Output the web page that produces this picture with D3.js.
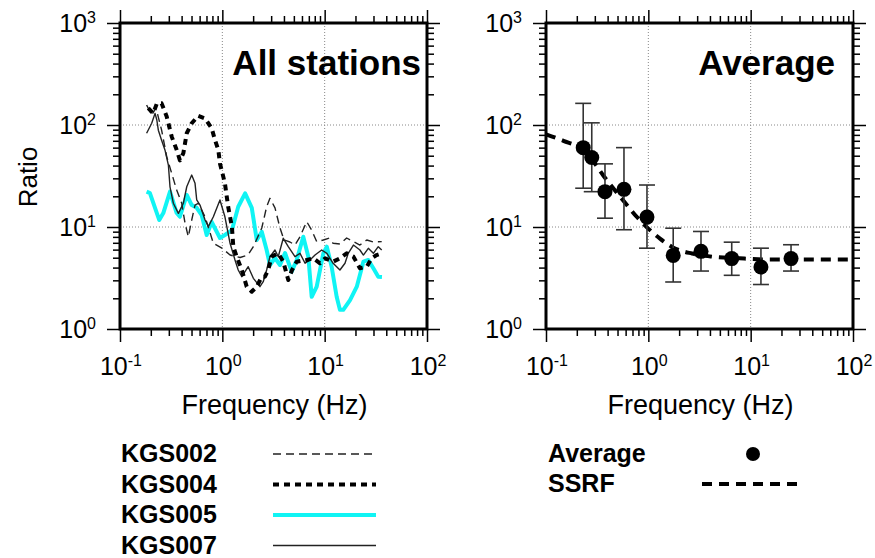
<!DOCTYPE html>
<html>
<head>
<meta charset="utf-8">
<script src="https://cdn.jsdelivr.net/npm/d3@7"></script>
<style>
  body { margin: 0; background: #fff; }
  svg { font-family: "Liberation Sans", Arial, Helvetica, sans-serif; }
</style>
</head>
<body>
<div id="chart"></div>
<script>
// ---- data ----
const kgs002Freq = [0.182,0.204,0.225,0.255,0.286,0.32,0.358,0.401,0.432,0.465,0.502,0.541,0.582,0.678,0.817,0.99,1.19,1.49,1.78,2.01,2.43,2.71,2.92,3.27,3.66,4.01,4.58,5.13,5.74,6.67,7.47,8.36,9.7,10.9,12.1,14.1,16.4,19.1,22.1,25.8,29.9,36.1];
const kgs002Ratio = [157,125,147,89,49,33.6,23,17.1,10.9,8.03,11.7,16.4,17.1,12.6,6.92,6.22,5.31,5.02,5.31,6.41,9.78,15.8,19.1,15.4,9.78,7.46,7.13,6.66,8.03,11.3,9.3,7.18,7.46,7.75,6.92,6.81,7.8,7.18,6.66,7.46,7.13,7.18];

const kgs004Freq = [0.189,0.211,0.230,0.255,0.286,0.32,0.358,0.385,0.416,0.449,0.502,0.582,0.678,0.787,0.848,0.914,0.948,1.06,1.14,1.24,1.28,1.38,1.55,1.73,1.94,2.17,2.43,2.61,2.81,3.03,3.52,3.94,4.41,4.8,5.33,6.67,7.74,9.0,10.1,12.1,14.1,16.4,19.1,22.1,25.8,28.8,32.2,36.1];
const kgs004Ratio = [146,130,164,163,121,77,57,45,53,83,104,123,116,93,71,57,42,26.8,15.8,10.1,6.41,5.12,3.79,2.6,2.32,2.6,3.26,3.26,3.79,5.12,5.52,4.57,3.02,3.79,4.57,4.75,4.93,4.41,4.93,4.57,4.93,5.52,5.12,3.94,4.08,4.93,5.31,5.52];

const kgs005Freq = [0.182,0.196,0.242,0.265,0.308,0.358,0.385,0.449,0.502,0.562,0.628,0.703,0.787,0.948,1.06,1.24,1.43,1.67,1.94,2.17,2.43,2.71,2.92,3.27,3.66,4.1,4.76,5.33,6.18,6.92,7.47,8.36,9.7,10.5,11.7,13.1,14.1,15.2,17.7,20.6,23.9,26.7,29.9,33.4,36.3];
const kgs005Ratio = [22.2,21.5,11.7,13.7,22.2,13.7,12.6,20.6,16.4,15.4,13.1,8.35,11.2,7.8,8.35,9.3,15.8,21.4,15.4,7.46,9.0,5.95,4.24,4.97,4.24,5.56,3.65,4.75,8.03,5.12,2.07,2.6,5.52,6.41,4.08,2.07,1.54,1.54,1.92,2.6,4.57,4.75,3.94,3.26,3.24];

const kgs007Freq = [0.182,0.204,0.22,0.229,0.237,0.255,0.275,0.297,0.308,0.332,0.372,0.416,0.449,0.502,0.541,0.562,0.605,0.678,0.73,0.817,0.948,1.06,1.19,1.33,1.43,1.55,1.79,2.01,2.33,2.51,2.71,2.92,3.27,3.52,3.94,4.41,5.13,5.74,6.43,7.19,8.05,9.35,10.5,12.1,14.1,15.8,17.0,19.1,22.1,23.9,26.7,29.9,33.4,36.1];
const kgs007Ratio = [83,104,130,112,89,71,57,40.5,24.8,17.1,13.6,17.1,24.8,32.3,26.8,18.4,16.4,11.7,10.1,12.6,18.4,12.6,6.92,4.75,3.79,3.26,4.08,3.14,2.6,2.91,3.79,5.12,5.95,5.12,7.75,6.41,5.12,5.52,4.41,4.75,5.31,5.95,5.52,4.41,3.79,4.41,5.52,6.66,5.95,5.31,6.18,5.52,6.41,5.95];

const avgFreq = [0.231,0.280,0.377,0.578,0.97,1.75,3.27,6.53,12.6,24.8];
const avgRatio = [60,48,22.2,23.4,12.5,5.27,5.77,4.9,4.05,4.9];
const avgHigh = [163,105,41.6,60,25.8,9.73,9.04,7.1,6.2,6.7];
const avgLow = [24,22.2,12.2,9.4,6.2,2.89,3.7,3.36,2.73,3.7];

const ssrfFreq = [0.1,0.148,0.23,0.28,0.363,0.59,0.77,1.3,1.74,2.67,4.0,7.8,15,100];
const ssrfRatio = [81,70,57,46,32,17.4,12.6,7.7,6.3,5.5,5.15,4.93,4.8,4.8];

const xMajor = [0.1, 1, 10, 100];
const yMajor = [1, 10, 100, 1000];

// ---- layout ----
var width = 875, height = 558;
var pw = 307, plotTop = 23, plotBottom = 329;

var svg = d3.select("#chart")
  .append("svg")
  .attr("width", width)
  .attr("height", height);

function minorsOf(decades) {
  var out = [];
  decades.slice(0, -1).forEach(function (d) {
    for (var k = 2; k <= 9; k++) out.push(d * k);
  });
  return out;
}
var xMinor = minorsOf(xMajor), yMinor = minorsOf(yMajor);

function expLabel(g, x, y, exp, anchor) {
  var t = g.append("text")
    .attr("x", x).attr("y", y)
    .attr("text-anchor", anchor)
    .style("font-size", "25px");
  t.append("tspan").text("10");
  t.append("tspan").attr("dy", -9).style("font-size", "16px").text(exp);
}

function panel(x0) {
  var x = d3.scaleLog().domain([0.1, 100]).range([x0, x0 + pw]);
  var y = d3.scaleLog().domain([1, 1000]).range([plotBottom, plotTop]);
  var g = svg.append("g");

  // dotted grid at inner decades
  g.selectAll(".gx").data([1, 10]).join("line")
    .attr("x1", d => x(d)).attr("x2", d => x(d))
    .attr("y1", plotTop).attr("y2", plotBottom)
    .attr("stroke", "#888").attr("stroke-width", 1).attr("stroke-dasharray", "1,2");
  g.selectAll(".gy").data([10, 100]).join("line")
    .attr("y1", d => y(d)).attr("y2", d => y(d))
    .attr("x1", x0).attr("x2", x0 + pw)
    .attr("stroke", "#888").attr("stroke-width", 1).attr("stroke-dasharray", "1,2");

  // ticks on all four sides, pointing out
  var sides = [
    [d3.axisBottom, x, "translate(0," + plotBottom + ")", xMajor, xMinor],
    [d3.axisTop, x, "translate(0," + plotTop + ")", xMajor, xMinor],
    [d3.axisLeft, y, "translate(" + x0 + ",0)", yMajor, yMinor],
    [d3.axisRight, y, "translate(" + (x0 + pw) + ",0)", yMajor, yMinor]
  ];
  sides.forEach(function (s) {
    [[s[3], 13], [s[4], 7]].forEach(function (t) {
      var a = g.append("g")
        .attr("transform", s[2])
        .call(s[0](s[1]).tickValues(t[0]).tickSize(t[1]).tickSizeOuter(0).tickFormat(""));
      a.select(".domain").remove();
      a.selectAll("line").attr("stroke", "#000").attr("stroke-width", 1.5);
    });
  });

  g.append("rect")
    .attr("x", x0).attr("y", plotTop)
    .attr("width", pw).attr("height", plotBottom - plotTop)
    .attr("fill", "none").attr("stroke", "#000").attr("stroke-width", 3);

  // tick labels
  yMajor.forEach(function (v) {
    expLabel(g, x0 - 24, y(v) + 9, String(Math.round(Math.log10(v))), "end");
  });
  xMajor.forEach(function (v) {
    expLabel(g, x(v) + 1, 375, String(Math.round(Math.log10(v))), "middle");
  });

  g.append("text")
    .attr("x", x0 + pw / 2 + 1).attr("y", 414)
    .attr("text-anchor", "middle")
    .style("font-size", "27px")
    .text("Frequency (Hz)");

  return { x: x, y: y, g: g };
}

var leftP = panel(120);
var rightP = panel(546);

svg.append("text")
  .attr("transform", "translate(37,177) rotate(-90)")
  .attr("text-anchor", "middle")
  .style("font-size", "26px")
  .text("Ratio");

// panel titles
svg.append("text").attr("x", 421).attr("y", 75).attr("text-anchor", "end")
  .style("font-size", "35px").style("font-weight", "bold").text("All stations");
svg.append("text").attr("x", 835).attr("y", 75).attr("text-anchor", "end")
  .style("font-size", "35px").style("font-weight", "bold").text("Average");

// ---- station curves ----
var stations = [
  { name: "KGS002", f: kgs002Freq, r: kgs002Ratio, color: "#222", w: 1.4, dash: "8,5" },
  { name: "KGS004", f: kgs004Freq, r: kgs004Ratio, color: "#000", w: 4, dash: "6,5" },
  { name: "KGS005", f: kgs005Freq, r: kgs005Ratio, color: "#10f4f4", w: 4, dash: null },
  { name: "KGS007", f: kgs007Freq, r: kgs007Ratio, color: "#222", w: 1.4, dash: null }
];

var lineL = d3.line()
  .x(function (d) { return leftP.x(d[0]); })
  .y(function (d) { return leftP.y(d[1]); });

// cyan first, black curves over it
[2, 0, 3, 1].forEach(function (i) {
  var s = stations[i];
  leftP.g.append("path")
    .datum(d3.zip(s.f, s.r))
    .attr("fill", "none")
    .attr("stroke", s.color)
    .attr("stroke-width", s.w)
    .attr("stroke-linejoin", "round")
    .attr("stroke-dasharray", s.dash)
    .attr("d", lineL);
});

// ---- average panel ----
var lineR = d3.line()
  .curve(d3.curveMonotoneX)
  .x(function (d) { return rightP.x(d[0]); })
  .y(function (d) { return rightP.y(d[1]); });

rightP.g.append("path")
  .datum(d3.zip(ssrfFreq, ssrfRatio))
  .attr("fill", "none")
  .attr("stroke", "#000")
  .attr("stroke-width", 4)
  .attr("stroke-dasharray", "10,7")
  .attr("d", lineR);

var avg = d3.range(avgFreq.length).map(function (i) {
  return { f: avgFreq[i], r: avgRatio[i], lo: avgLow[i], hi: avgHigh[i] };
});

var eb = rightP.g.selectAll(".eb").data(avg).join("g").attr("stroke", "#333").attr("stroke-width", 1.6);
eb.append("line")
  .attr("x1", d => rightP.x(d.f)).attr("x2", d => rightP.x(d.f))
  .attr("y1", d => rightP.y(d.lo)).attr("y2", d => rightP.y(d.hi));
eb.append("line")
  .attr("x1", d => rightP.x(d.f) - 8).attr("x2", d => rightP.x(d.f) + 8)
  .attr("y1", d => rightP.y(d.lo)).attr("y2", d => rightP.y(d.lo));
eb.append("line")
  .attr("x1", d => rightP.x(d.f) - 8).attr("x2", d => rightP.x(d.f) + 8)
  .attr("y1", d => rightP.y(d.hi)).attr("y2", d => rightP.y(d.hi));

rightP.g.selectAll(".dot").data(avg).join("circle")
  .attr("cx", d => rightP.x(d.f))
  .attr("cy", d => rightP.y(d.r))
  .attr("r", 7.5)
  .attr("fill", "#000");

// ---- legends ----
var leg = svg.append("g");
stations.forEach(function (s, i) {
  var yy = 462 + i * 30.5;
  leg.append("text")
    .attr("x", 121).attr("y", yy)
    .style("font-size", "25px").style("font-weight", "bold")
    .text(s.name);
  leg.append("line")
    .attr("x1", 273).attr("x2", 376)
    .attr("y1", yy - 8).attr("y2", yy - 8)
    .attr("stroke", s.color)
    .attr("stroke-width", s.w)
    .attr("stroke-dasharray", s.dash);
});

leg.append("text").attr("x", 548).attr("y", 462)
  .style("font-size", "25px").style("font-weight", "bold").text("Average");
leg.append("circle").attr("cx", 753).attr("cy", 454).attr("r", 7).attr("fill", "#000");
leg.append("text").attr("x", 548).attr("y", 492)
  .style("font-size", "25px").style("font-weight", "bold").text("SSRF");
leg.append("line")
  .attr("x1", 702).attr("x2", 800).attr("y1", 484).attr("y2", 484)
  .attr("stroke", "#000").attr("stroke-width", 4).attr("stroke-dasharray", "10,7");
</script>
</body>
</html>
